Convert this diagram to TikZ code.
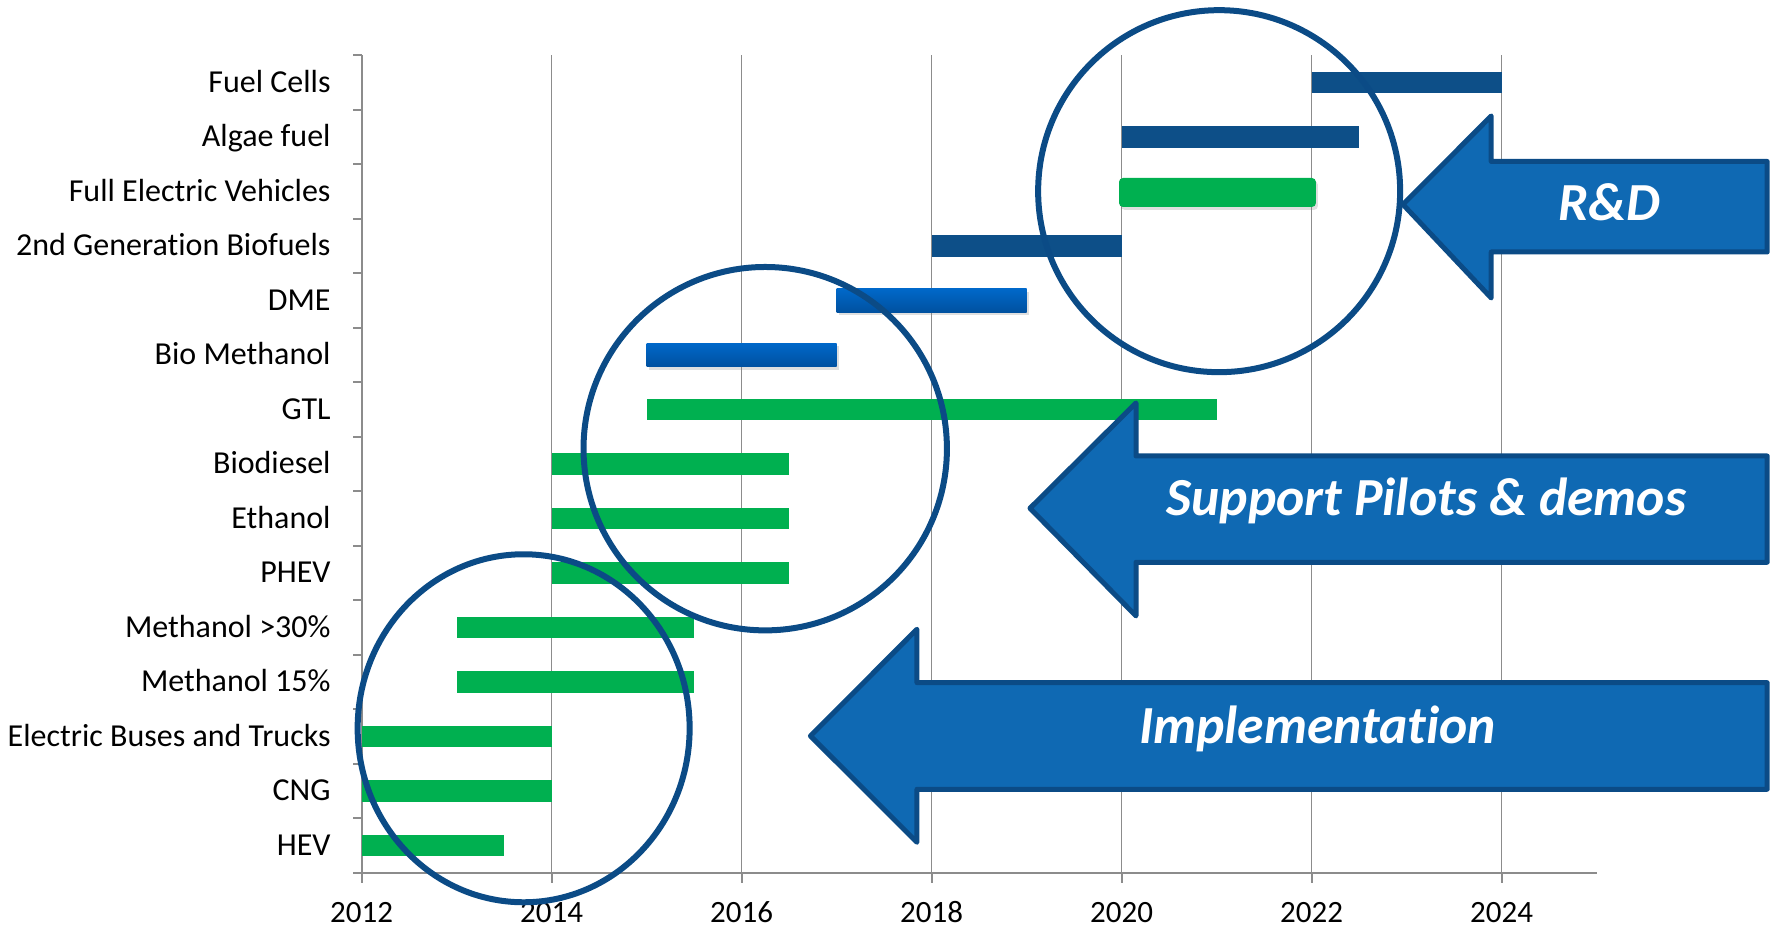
\documentclass[tikz,border=0pt]{standalone}
\usepackage{fontspec}
\setmainfont{Carlito}[Ligatures=NoCommon]
\usepackage{xcolor}
\usetikzlibrary{shadows}

\definecolor{barGreen}{HTML}{00B050}
\definecolor{barNavy}{HTML}{0D4F88}
\definecolor{barBlueTop}{HTML}{0068C9}
\definecolor{barBlueBot}{HTML}{00509F}
\definecolor{arrowFill}{HTML}{0F69B3}
\definecolor{ringBlue}{HTML}{0B4B86}
\definecolor{gridGray}{HTML}{8C8C8C}

\tikzset{
  gridline/.style={gridGray, line width=0.75pt},
  axisline/.style={gridGray, line width=1pt},
  ring/.style={ringBlue, line width=3pt},
  bigarrow/.style={fill=arrowFill, draw=ringBlue, line width=2.5pt, line join=round},
  cat/.style={anchor=base east, inner sep=0pt, font=\fontsize{16pt}{19pt}\selectfont},
  yr/.style={anchor=base, inner sep=0pt, font=\fontsize{15.5pt}{18pt}\selectfont},
  arrowtext/.style={anchor=base, inner sep=0pt, text=white, font=\fontsize{26.8pt}{30pt}\selectfont\bfseries\itshape},
  barshadow/.style={drop shadow={shadow xshift=1pt, shadow yshift=-1.5pt, opacity=0.25}},
}

\begin{document}
\begin{tikzpicture}[x=47.5pt, y=27.25pt]
\useasboundingbox (-3.806,-1.0275) rectangle (14.836,16.018);
\coordinate (O) at (0,0);
% grid and axes
\foreach \x in {2,4,...,12} \draw[gridline] (\x,0) -- (\x,15);
\draw[axisline] (0,15) -- (O) -- (13,0);
\foreach \r in {0,...,15} \draw[axisline] (0,\r) -- ++(-4.5pt,0);
\foreach \x in {0,2,...,12} {
  \pgfmathtruncatemacro{\yr}{2012+\x}
  \draw[axisline] (\x,0) -- ++(0,-5pt);
  \node[yr] (y\yr) at (\x,-0.917) {\yr};
}
% categories
\foreach \r/\t in {0.5/HEV, 1.5/CNG, 2.5/Electric Buses and Trucks, 3.5/Methanol 15\%,
  4.5/Methanol >30\%, 5.5/PHEV, 6.5/Ethanol~, 7.5/Biodiesel, 8.5/GTL, 9.5/Bio Methanol,
  10.5/DME, 11.5/2nd Generation Biofuels, 12.5/Full Electric Vehicles, 13.5/Algae fuel,
  14.5/Fuel Cells}
  \node[cat] (c\r) at (-0.322,\r-0.174) {\t};
% bars
\foreach \r/\a/\b in {0.5/0/1.5, 1.5/0/2, 2.5/0/2, 3.5/1/3.5, 4.5/1/3.5, 5.5/2/4.5,
  6.5/2/4.5, 7.5/2/4.5, 8.5/3/9}
  \fill[barGreen] (\a,\r-0.197) rectangle (\b,\r+0.197);
\foreach \r/\a/\b in {11.5/6/8, 13.5/8/10.5, 14.5/10/12}
  \fill[barNavy] (\a,\r-0.197) rectangle (\b,\r+0.197);
\foreach \r/\a/\b in {9.5/3/5, 10.5/5/7}
  \path[barshadow, top color=barBlueTop, bottom color=barBlueBot] (\a,\r-0.216) rectangle (\b,\r+0.216);
\path[barshadow, fill=barGreen, rounded corners=2pt] (7.973,12.22) rectangle (10.046,12.752);
% circles
\draw[ring] (9.027,12.51) circle[radius=90.5pt];
\draw[ring] (4.249,7.785) circle[radius=90.85pt];
\draw[ring] (1.706,2.655) ellipse[x radius=83pt, y radius=87pt];
% arrows
\foreach \tx/\ty/\bx/\ht/\hb/\st/\sb in {10.962/12.266/11.891/13.890/10.550/13.055/11.394,
  7.036/6.692/8.152/8.624/4.716/7.651/5.701,
  4.725/2.514/5.846/4.472/0.563/3.492/1.536}
  \draw[bigarrow] (\tx,\ty) -- (\bx,\ht) -- (\bx,\st) -- (14.796,\st) -- (14.796,\sb)
    -- (\bx,\sb) -- (\bx,\hb) -- cycle;
\node[arrowtext] (rd) at (13.131,11.97) {R\&D};
\node[arrowtext] (pilots) at (11.209,6.550) {Support Pilots \& demos};
\node[arrowtext] (impl) at (10.062,2.380) {Implementation};
\end{tikzpicture}
\end{document}
